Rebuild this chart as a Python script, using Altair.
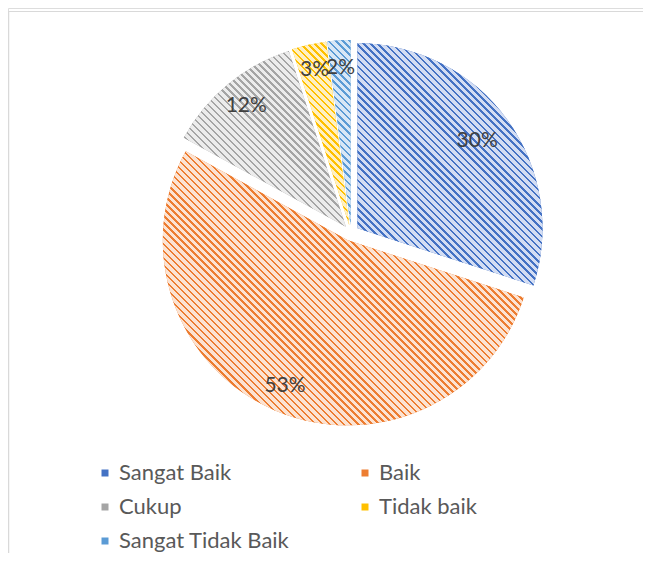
import math
import altair as alt
import pandas as pd

# ---- data ----
categories = ["Sangat Baik", "Baik", "Cukup", "Tidak baik", "Sangat Tidak Baik"]
values = [30, 53, 12, 3, 2]
slice_order = [0, 1, 2, 3, 4]
fg_colors = ["#4472C4", "#ED7D31", "#A5A5A5", "#FFC000", "#5B9BD5"]
bg_colors = ["#d3ddf3", "#fce3d2", "#ececec", "#fff0c2", "#d8e7f6"]
label_radius = [0.80, 0.855, 0.845, 0.86, 0.85]

# ---- style ----
RADIUS = 185
EXPLODE = 8
CX, CY = 343, 225
W, H = 635, 545
FONT = "Lato"
STRIPE_PERIOD = 5.0
DARK_FRAC = 0.35

df = pd.DataFrame({
    "category": categories,
    "value": values,
    "order": slice_order,
    "label_r": label_radius,
})

total = float(sum(values))


def arc_bbox(a0, a1, r):
    pts = [(0.0, 0.0)]
    for a in (a0, a1):
        pts.append((r * math.sin(a), -r * math.cos(a)))
    for k in range(5):
        a = k * math.pi / 2
        if a0 <= a <= a1:
            pts.append((r * math.sin(a), -r * math.cos(a)))
    xs = [p[0] for p in pts]
    ys = [p[1] for p in pts]
    return max(xs) - min(xs), max(ys) - min(ys)


def stripe_gradient(i):
    cum0 = sum(values[:i]) / total * 2 * math.pi
    cum1 = sum(values[: i + 1]) / total * 2 * math.pi
    bw, bh = arc_bbox(cum0, cum1, RADIUS)
    c = (bw + bh) / (bw * bw + bh * bh)
    length = (bw + bh) / math.sqrt(2)
    n = max(1, int(round(length / STRIPE_PERIOD)))
    stops = []
    for k in range(n):
        a = k / n
        b = (k + 1 - DARK_FRAC) / n
        e = (k + 1) / n
        stops += [
            alt.GradientStop(offset=a, color=bg_colors[i]),
            alt.GradientStop(offset=b, color=bg_colors[i]),
            alt.GradientStop(offset=b, color=fg_colors[i]),
            alt.GradientStop(offset=e, color=fg_colors[i]),
        ]
    return alt.LinearGradient(
        gradient="linear", stops=stops,
        x1=0, y1=1, x2=c * bw, y2=1 - c * bh,
    )


base = (
    alt.Chart(df)
    .transform_window(cum_end="sum(value)", sort=[alt.SortField("order")], frame=[None, 0])
    .transform_joinaggregate(total="sum(value)")
    .transform_calculate(cum_start="datum.cum_end - datum.value")
    .transform_calculate(pct="datum.value / datum.total")
    .transform_calculate(mid="2 * PI * (datum.cum_end - datum.value / 2) / datum.total")
    .transform_calculate(cx=f"{CX} + {EXPLODE} * sin(datum.mid)")
    .transform_calculate(cy=f"{CY} - {EXPLODE} * cos(datum.mid)")
    .transform_calculate(lx=f"datum.cx + datum.label_r * {RADIUS} * sin(datum.mid)")
    .transform_calculate(ly=f"datum.cy - datum.label_r * {RADIUS} * cos(datum.mid)")
)

theta_scale = alt.Scale(domain=[0, total], range=[0, 2 * math.pi])

enc = dict(
    x=alt.X("cx:Q", scale=None),
    y=alt.Y("cy:Q", scale=None),
    theta=alt.Theta("cum_start:Q", scale=theta_scale),
    theta2="cum_end:Q",
)

legend_layer = base.mark_arc(radius=RADIUS).encode(
    color=alt.Color(
        "category:N",
        sort=categories,
        scale=alt.Scale(domain=categories, range=fg_colors),
        legend=alt.Legend(
            title=None,
            orient="none",
            direction="horizontal",
            legendX=86,
            legendY=454,
            columns=2,
            columnPadding=64,
            rowPadding=12,
            symbolType="square",
            symbolSize=49,
            symbolStrokeWidth=0,
            symbolOffset=0,
            labelOffset=3,
            labelFont=FONT,
            labelFontSize=22,
            labelColor="#595959",
            labelLimit=300,
            padding=0,
        ),
    ),
    **enc,
)

stripe_layers = [
    base.transform_filter(f"datum.order == {i}")
    .mark_arc(radius=RADIUS, fill=stripe_gradient(i))
    .encode(**enc)
    for i in range(len(values))
]

labels = base.mark_text(font=FONT, fontSize=21, color="#404040").encode(
    x=alt.X("lx:Q", scale=None),
    y=alt.Y("ly:Q", scale=None),
    text=alt.Text("pct:Q", format=".0%"),
)

frame_df = pd.DataFrame({"k": [0]})
top_border = alt.Chart(frame_df).mark_rule(color="#d9d9d9", strokeWidth=1).encode(
    x=alt.value(0), x2=alt.value(W), y=alt.value(3.5)
)
left_border = alt.Chart(frame_df).mark_rule(color="#d9d9d9", strokeWidth=1.5).encode(
    x=alt.value(0.5), y=alt.value(3), y2=alt.value(H)
)

chart = (
    alt.layer(legend_layer, *stripe_layers, labels, top_border, left_border)
    .properties(width=W, height=H, autosize=alt.AutoSizeParams(type="none"), padding=0)
    .configure_view(stroke=None)
    .configure(background="white")
)

chart.save("out.html", embed_options={"renderer": "svg", "actions": False})
